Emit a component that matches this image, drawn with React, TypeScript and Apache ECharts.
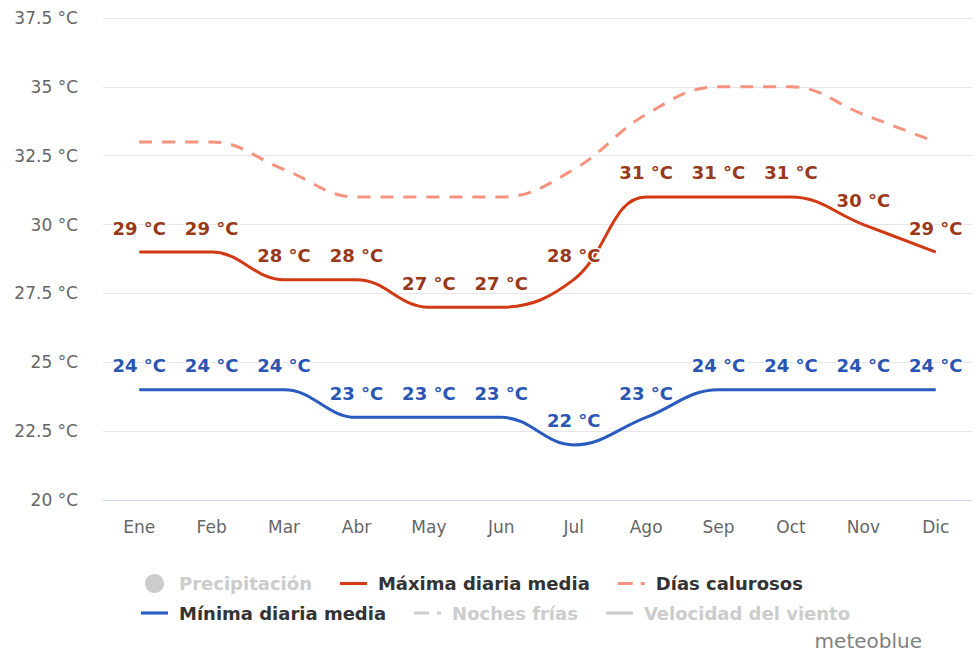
import React, { useEffect, useRef } from "react";
import * as echarts from "echarts";

const months = ["Ene", "Feb", "Mar", "Abr", "May", "Jun", "Jul", "Ago", "Sep", "Oct", "Nov", "Dic"];
const maxDaily = [29, 29, 28, 28, 27, 27, 28, 31, 31, 31, 30, 29];
const minDaily = [24, 24, 24, 23, 23, 23, 22, 23, 24, 24, 24, 24];
const hotDays = [33, 33, 32, 31, 31, 31, 32, 34, 35, 35, 34, 33];

const FONT = "DejaVu Sans";
const LINE_ICON = "path://M0,0H26V3H0Z";
const DASH_ICON = "path://M0,0H15V3H0Z M23,0H27V3H23Z";

export default function App() {
  const ref = useRef<HTMLDivElement>(null);
  useEffect(() => {
    if (!ref.current) return;
    const chart = echarts.init(ref.current, undefined, { renderer: "svg" });
    const labelOf = (color: string) => ({
      show: true,
      position: "top" as const,
      distance: 15,
      formatter: (p: any) => `${p.value} °C`,
      color,
      fontFamily: FONT,
      fontWeight: "bold" as const,
      fontSize: 18,
      textBorderColor: "#fff",
      textBorderWidth: 3,
    });
    const selected = {
      "Precipitación": false,
      "Noches frías": false,
      "Velocidad del viento": false,
    };
    const legendText = {
      fontFamily: FONT,
      fontWeight: "bold" as const,
      fontSize: 18,
      color: "#333",
      padding: [0, 0, 0, 6],
    };
    const legendBase = {
      itemGap: 28,
      itemWidth: 27,
      itemHeight: 19,
      inactiveColor: "#ccc",
      textStyle: legendText,
      selected,
    };
    chart.setOption({
      animation: false,
      backgroundColor: "#fff",
      grid: { left: 103, right: 4, top: 18, bottom: 152 },
      graphic: [
        {
          type: "text",
          right: 54,
          top: 631,
          style: { text: "meteoblue", fontFamily: FONT, fontSize: 20, fill: "#808080" },
        },
      ],
      legend: [
        {
          ...legendBase,
          left: 140,
          top: 569,
          data: [
            { name: "Precipitación", icon: "circle" },
            { name: "Máxima diaria media", icon: LINE_ICON },
            { name: "Días calurosos", icon: DASH_ICON },
          ],
        },
        {
          ...legendBase,
          left: 136,
          top: 599,
          data: [
            { name: "Mínima diaria media", icon: LINE_ICON },
            { name: "Noches frías", icon: DASH_ICON },
            { name: "Velocidad del viento", icon: LINE_ICON },
          ],
        },
      ],
      xAxis: {
        type: "category",
        data: months,
        boundaryGap: true,
        axisLine: { lineStyle: { color: "#ccd6eb" } },
        axisTick: { alignWithLabel: true, length: 10, lineStyle: { color: "#ccd6eb" } },
        axisLabel: { color: "#666", fontFamily: FONT, fontSize: 17, margin: 18 },
      },
      yAxis: {
        type: "value",
        min: 20,
        max: 37.5,
        interval: 2.5,
        axisLabel: {
          color: "#666",
          fontFamily: FONT,
          fontSize: 17,
          margin: 25,
          formatter: (v: number) => `${v} °C`,
        },
        splitLine: { lineStyle: { color: "#e6e6e6" } },
      },
      series: [
        { name: "Precipitación", type: "line", data: [], itemStyle: { color: "#ccc" } },
        {
          name: "Máxima diaria media",
          type: "line",
          data: maxDaily,
          smooth: 0.4,
          symbol: "circle",
          symbolSize: 0.1,
          itemStyle: { color: "#d13a12" },
          lineStyle: { color: "#d13a12", width: 3 },
          label: labelOf("#98391a"),
          z: 3,
        },
        {
          name: "Días calurosos",
          type: "line",
          data: hotDays,
          smooth: 0.4,
          symbol: "none",
          itemStyle: { color: "#f5937e" },
          lineStyle: { color: "#f5937e", width: 3, type: [13, 10] },
          z: 2,
        },
        {
          name: "Mínima diaria media",
          type: "line",
          data: minDaily,
          smooth: 0.4,
          symbol: "circle",
          symbolSize: 0.1,
          itemStyle: { color: "#2a5bbf" },
          lineStyle: { color: "#2a5bbf", width: 3 },
          label: labelOf("#2a55b3"),
          z: 3,
        },
        { name: "Noches frías", type: "line", data: [], itemStyle: { color: "#ccc" } },
        { name: "Velocidad del viento", type: "line", data: [], itemStyle: { color: "#ccc" } },
      ],
    });
    return () => chart.dispose();
  }, []);
  return <div ref={ref} style={{ width: 976, height: 652, position: "absolute", left: 0, top: 0 }} />;
}
